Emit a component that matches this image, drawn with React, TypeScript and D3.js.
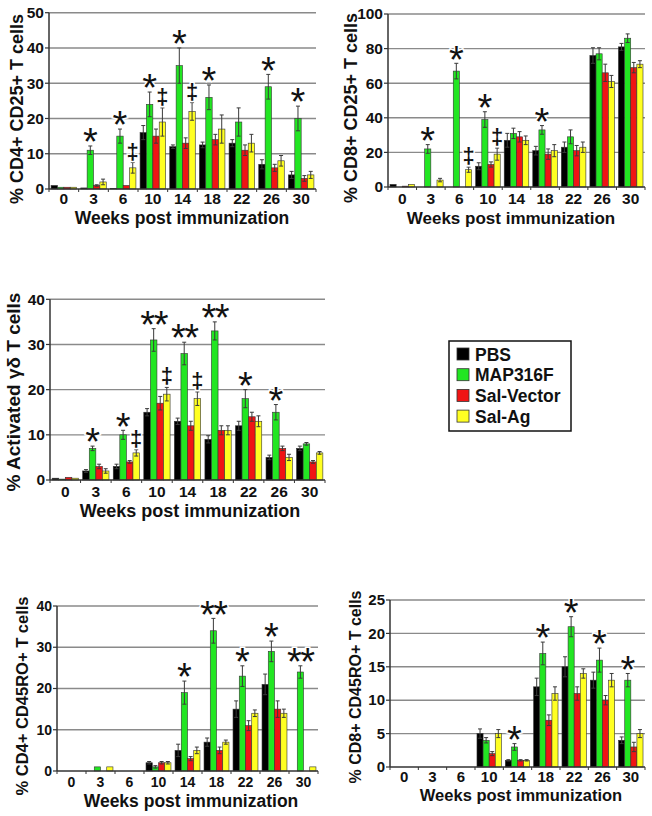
import React from "react";
import * as d3 from "d3";

const weeks = ["0", "3", "6", "10", "14", "18", "22", "26", "30"];
const groups = ["PBS", "MAP316F", "Sal-Vector", "Sal-Ag"];
const groupColors = ["#000000", "#22e622", "#f01414", "#ffff22"];

// Panel A: % CD4+ CD25+ T cells (rows: PBS, MAP316F, Sal-Vector, Sal-Ag)
const cd4cd25Mean = [
  [1, 0.3, 0.2, 16, 12, 12.5, 13, 7, 4],
  [0.5, 11, 15, 24, 35, 26, 19, 29, 20],
  [0.5, 1, 1, 15, 13, 14, 11, 6, 3],
  [0.5, 2, 6, 19, 22, 17, 13, 8, 4],
];
const cd4cd25Err = [
  [0, 0, 0, 2, 0.5, 0.8, 1, 1.3, 1],
  [0, 1.2, 2, 3.5, 5, 3.5, 4, 3.5, 3.5],
  [0, 0.2, 0, 2, 1.5, 1.5, 1.5, 1, 0.8],
  [0, 0.8, 1.5, 4, 2.5, 4, 2.5, 1.5, 1],
];
const cd4cd25Ticks = [0, 10, 20, 30, 40, 50];
const cd4cd25Marks = [
  { week: "3", group: 1, mark: "*" },
  { week: "6", group: 1, mark: "*" },
  { week: "6", group: 3, mark: "‡" },
  { week: "10", group: 1, mark: "*" },
  { week: "10", group: 3, mark: "‡" },
  { week: "14", group: 1, mark: "*" },
  { week: "14", group: 3, mark: "‡" },
  { week: "18", group: 1, mark: "*" },
  { week: "26", group: 1, mark: "*" },
  { week: "30", group: 1, mark: "*" },
];

// Panel B: % CD8+ CD25+ T cells
const cd8cd25Mean = [
  [1.5, 0, 0, 12, 27, 21, 23, 76, 81],
  [0, 22, 67, 39, 31, 33, 29, 77, 86],
  [0.5, 0, 0, 13, 29, 19, 21, 66, 69],
  [1.5, 4, 10, 19, 27, 21, 23, 61, 71],
];
const cd8cd25Err = [
  [0, 0, 0, 2, 4, 2.5, 3, 4.5, 2],
  [0, 2.5, 4.5, 4.5, 3, 2.5, 4, 3.5, 2.5],
  [0, 0, 0, 1.5, 3, 3, 3, 5, 3],
  [0, 1, 1.5, 3.5, 2.5, 3.5, 3, 3.5, 2],
];
const cd8cd25Ticks = [0, 20, 40, 60, 80, 100];
const cd8cd25Marks = [
  { week: "3", group: 1, mark: "*" },
  { week: "6", group: 1, mark: "*" },
  { week: "6", group: 3, mark: "‡" },
  { week: "10", group: 1, mark: "*" },
  { week: "10", group: 3, mark: "‡" },
  { week: "18", group: 1, mark: "*" },
];

// Panel C: % Activated γδ T cells
const gdMean = [
  [0.4, 2, 3, 15, 13, 9, 12, 5, 7],
  [0.2, 7, 10, 31, 28, 33, 18, 15, 8],
  [0.6, 3, 4, 17, 12, 11, 14, 7, 4],
  [0.4, 2, 6, 19, 18, 11, 13, 5, 6],
];
const gdErr = [
  [0, 0.3, 0.5, 0.8, 0.7, 0.8, 1, 0.5, 0.5],
  [0, 0.5, 1, 2.5, 2.5, 2, 2, 1.7, 0.3],
  [0, 0.5, 0.3, 1.5, 1, 1, 1, 0.5, 0.3],
  [0, 0.5, 0.7, 1.5, 1.5, 1, 1.2, 0.7, 0.3],
];
const gdTicks = [0, 10, 20, 30, 40];
const gdMarks = [
  { week: "3", group: 1, mark: "*" },
  { week: "6", group: 1, mark: "*" },
  { week: "6", group: 3, mark: "‡" },
  { week: "10", group: 1, mark: "**" },
  { week: "10", group: 3, mark: "‡" },
  { week: "14", group: 1, mark: "**" },
  { week: "14", group: 3, mark: "‡" },
  { week: "18", group: 1, mark: "**" },
  { week: "22", group: 1, mark: "*" },
  { week: "26", group: 1, mark: "*" },
];

// Panel D: % CD4+ CD45RO+ T cells
const cd4roMean = [
  [0, 0, 0, 2, 5, 7, 15, 21, 0],
  [0, 1, 0, 1, 19, 34, 23, 29, 24],
  [0, 0, 0, 2, 3, 5, 11, 15, 0],
  [0, 1, 0, 2, 5, 7, 14, 14, 1],
];
const cd4roErr = [
  [0, 0, 0, 0.3, 1.5, 1, 2, 2.5, 0],
  [0, 0, 0, 0.3, 2.8, 3, 2.5, 2.5, 1.5],
  [0, 0, 0, 0.3, 0.5, 0.8, 1.2, 2, 0],
  [0, 0, 0, 0.3, 0.8, 0.5, 0.8, 1, 0],
];
const cd4roTicks = [0, 10, 20, 30, 40];
const cd4roMarks = [
  { week: "14", group: 1, mark: "*" },
  { week: "18", group: 1, mark: "**" },
  { week: "22", group: 1, mark: "*" },
  { week: "26", group: 1, mark: "*" },
  { week: "30", group: 1, mark: "**" },
];

// Panel E: % CD8+ CD45RO+ T cells
const cd8roMean = [
  [0, 0, 0, 5, 1, 12, 15, 13, 4],
  [0, 0, 0, 4, 3, 17, 21, 16, 13],
  [0, 0, 0, 2, 1, 7, 11, 10, 3],
  [0, 0, 0, 5, 1, 11, 14, 13, 5],
];
const cd8roErr = [
  [0, 0, 0, 0.7, 0.1, 1.3, 1.5, 1.2, 0.5],
  [0, 0, 0, 0.4, 0.5, 1.7, 1.5, 1.8, 1],
  [0, 0, 0, 0.3, 0.1, 0.8, 1, 0.7, 0.7],
  [0, 0, 0, 0.6, 0.1, 1, 0.7, 1, 0.6],
];
const cd8roTicks = [0, 5, 10, 15, 20, 25];
const cd8roMarks = [
  { week: "14", group: 1, mark: "*" },
  { week: "18", group: 1, mark: "*" },
  { week: "22", group: 1, mark: "*" },
  { week: "26", group: 1, mark: "*" },
  { week: "30", group: 1, mark: "*" },
];

const FONT = "'Liberation Sans', Arial, Helvetica, sans-serif";

type Mark = { week: string; group: number; mark: string };

function Panel(props: {
  means: number[][];
  errs: number[][];
  ticks: number[];
  marks: Mark[];
  yLabel: string;
  x0: number;
  x1: number;
  yTop: number;
  yBottom: number;
  tickBase: number;
  titleBase: number;
  titleX: number;
  yLabX: number;
  yLabY: number;
  yLabFs: number;
  titleFs: number;
  tickFs: number;
}) {
  const p = props;
  const yMax = p.ticks[p.ticks.length - 1];
  const x = d3.scaleBand<string>().domain(weeks).range([p.x0, p.x1]).paddingInner(0.14).paddingOuter(0.07);
  const xi = d3.scaleBand<string>().domain(groups).range([0, x.bandwidth()]).padding(0);
  const y = d3.scaleLinear().domain([0, yMax]).range([p.yBottom, p.yTop]);
  const off = (x.step() - x.bandwidth()) / 2;
  const bw = xi.bandwidth();

  return (
    <g>
      {p.ticks.filter((t) => t > 0).map((t) => (
        <line key={"g" + t} x1={p.x0} x2={p.x1} y1={y(t)} y2={y(t)} stroke="#8a8a8a" strokeWidth={1.4} />
      ))}
      {groups.map((g, gi) =>
        weeks.map((w, wi) => {
          const v = p.means[gi][wi];
          if (!v) return null;
          const bx = (x(w) as number) + (xi(g) as number);
          return (
            <rect key={g + w} x={bx} y={y(v)} width={bw} height={p.yBottom - y(v)} fill={groupColors[gi]} stroke="#333" strokeWidth={0.6} />
          );
        })
      )}
      {groups.map((g, gi) =>
        weeks.map((w, wi) => {
          const v = p.means[gi][wi];
          const e = p.errs[gi][wi];
          if (!v || !e) return null;
          const cx = (x(w) as number) + (xi(g) as number) + bw / 2;
          const yt = y(v + e);
          const yb = y(Math.max(0, v - e));
          return (
            <g key={"e" + g + w} stroke="#3a3a3a" strokeWidth={1}>
              <line x1={cx} x2={cx} y1={yt} y2={yb} />
              <line x1={cx - 2} x2={cx + 2} y1={yt} y2={yt} />
              <line x1={cx - 2} x2={cx + 2} y1={yb} y2={yb} />
            </g>
          );
        })
      )}
      <line x1={p.x0} x2={p.x0} y1={p.yTop} y2={p.yBottom} stroke="#333" strokeWidth={1.5} />
      <line x1={p.x0} x2={p.x1} y1={p.yBottom} y2={p.yBottom} stroke="#333" strokeWidth={1.5} />
      {p.ticks.map((t) => (
        <g key={"t" + t}>
          <line x1={p.x0 - 4} x2={p.x0} y1={y(t)} y2={y(t)} stroke="#333" strokeWidth={1.2} />
          <text x={p.x0 - 5} y={y(t)} dy="0.35em" textAnchor="end" fontSize={p.tickFs} fontWeight="bold" fill="#111">
            {t}
          </text>
        </g>
      ))}
      {weeks.map((w) => (
        <line key={"xt" + w} x1={(x(w) as number) - off} x2={(x(w) as number) - off} y1={p.yBottom} y2={p.yBottom + 3} stroke="#333" strokeWidth={1} />
      ))}
      <line x1={p.x1} x2={p.x1} y1={p.yBottom} y2={p.yBottom + 3} stroke="#333" strokeWidth={1} />
      {weeks.map((w) => (
        <text key={"xl" + w} x={(x(w) as number) + x.bandwidth() / 2} y={p.tickBase} textAnchor="middle" fontSize={p.tickFs} fontWeight="bold" fill="#111">
          {w}
        </text>
      ))}
      <text x={p.titleX} y={p.titleBase} textAnchor="middle" fontSize={p.titleFs} fontWeight="bold" fill="#111">
        Weeks post immunization
      </text>
      <text transform={`translate(${p.yLabX},${p.yLabY}) rotate(-90)`} textAnchor="middle" fontSize={p.yLabFs} fontWeight="bold" fill="#111">
        {p.yLabel}
      </text>
      {p.marks.map((m, i) => {
        const gi = m.group;
        const wi = weeks.indexOf(m.week);
        const v = p.means[gi][wi];
        const e = p.errs[gi][wi];
        const cx = (x(m.week) as number) + (xi(groups[gi]) as number) + bw / 2;
        const top = y(v + e);
        const isStar = m.mark.indexOf("*") >= 0;
        const fs = isStar ? 38 : 22;
        const base = isStar ? top - 6 + 0.4 * fs : top - 4;
        return (
          <text key={"m" + i} x={cx} y={base} textAnchor="middle" fontSize={fs} fontWeight={isStar ? "normal" : "bold"} fill="#111"
            stroke="#fff" strokeWidth={3} paintOrder="stroke" letterSpacing={m.mark === "**" ? -1.5 : 0}>
            {m.mark}
          </text>
        );
      })}
    </g>
  );
}

function Legend() {
  const lx = 449, ly = 341;
  return (
    <g>
      <rect x={lx} y={ly} width={122} height={90} fill="#fff" stroke="#111" strokeWidth={1.5} />
      {groups.map((g, i) => (
        <g key={g}>
          <rect x={lx + 8} y={ly + 7 + i * 20.7} width={12} height={12} fill={groupColors[i]} stroke="#333" strokeWidth={0.8} />
          <text x={lx + 26} y={ly + 19.5 + i * 20.7} fontSize={17.5} fontWeight="bold" fill="#111">
            {g}
          </text>
        </g>
      ))}
    </g>
  );
}

export default function App() {
  return (
    <div style={{ position: "absolute", left: 0, top: 0 }}>
      <svg width={652} height={816} style={{ display: "block", background: "#fff", fontFamily: FONT }}>
        <Panel means={cd4cd25Mean} errs={cd4cd25Err} ticks={cd4cd25Ticks} marks={cd4cd25Marks} yLabel="% CD4+ CD25+ T cells"
          x0={49} x1={316} yTop={12.7} yBottom={189} tickBase={204} titleBase={224} titleX={182}
          yLabX={23} yLabY={109} yLabFs={18} titleFs={17.5} tickFs={15.5} />
        <Panel means={cd8cd25Mean} errs={cd8cd25Err} ticks={cd8cd25Ticks} marks={cd8cd25Marks} yLabel="% CD8+ CD25+ T cells"
          x0={388} x1={645} yTop={14} yBottom={187} tickBase={204} titleBase={224} titleX={511}
          yLabX={357} yLabY={108} yLabFs={18} titleFs={17} tickFs={15.5} />
        <Panel means={gdMean} errs={gdErr} ticks={gdTicks} marks={gdMarks} yLabel="% Activated γδ T cells"
          x0={50} x1={325} yTop={299.3} yBottom={480} tickBase={497} titleBase={517} titleX={190}
          yLabX={20} yLabY={392} yLabFs={19} titleFs={18} tickFs={15.5} />
        <Panel means={cd4roMean} errs={cd4roErr} ticks={cd4roTicks} marks={cd4roMarks} yLabel="% CD4+ CD45RO+ T cells"
          x0={57} x1={318} yTop={606} yBottom={771} tickBase={787} titleBase={807} titleX={191}
          yLabX={28} yLabY={696} yLabFs={16.5} titleFs={17.5} tickFs={14} />
        <Panel means={cd8roMean} errs={cd8roErr} ticks={cd8roTicks} marks={cd8roMarks} yLabel="% CD8+ CD45RO+ T cells"
          x0={390} x1={645} yTop={600} yBottom={767} tickBase={782} titleBase={801} titleX={521}
          yLabX={361} yLabY={687} yLabFs={16} titleFs={16.5} tickFs={15} />
        <Legend />
      </svg>
    </div>
  );
}
